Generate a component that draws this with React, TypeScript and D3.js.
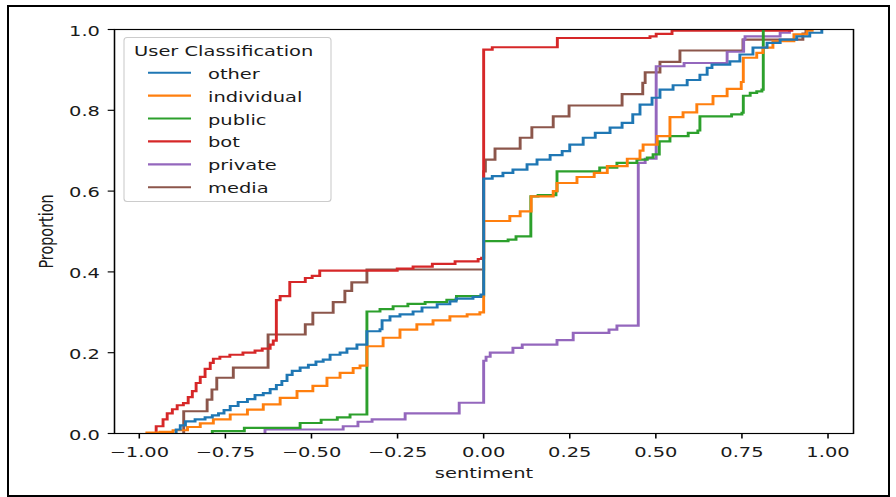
import React from 'react';
import * as d3 from 'd3';

type Pt = [number, number];

const seriesNames = ['other', 'individual', 'public', 'bot', 'private', 'media'];
const seriesColors = ['#1f77b4', '#ff7f0e', '#2ca02c', '#d62728', '#9467bd', '#8c564b'];

const other: Pt[] = [
  [-0.893, 0.01], [-0.881, 0.02], [-0.866, 0.03], [-0.838, 0.035], [-0.809, 0.04], [-0.788, 0.045],
  [-0.77, 0.05], [-0.754, 0.058], [-0.736, 0.068], [-0.713, 0.078], [-0.686, 0.085], [-0.664, 0.095],
  [-0.64, 0.1], [-0.62, 0.11], [-0.602, 0.12], [-0.586, 0.13], [-0.571, 0.145], [-0.556, 0.155],
  [-0.533, 0.163], [-0.509, 0.17], [-0.487, 0.178], [-0.466, 0.183], [-0.446, 0.195], [-0.417, 0.2],
  [-0.397, 0.21], [-0.368, 0.22], [-0.339, 0.253], [-0.301, 0.258], [-0.295, 0.28], [-0.272, 0.29],
  [-0.243, 0.295], [-0.205, 0.302], [-0.179, 0.312], [-0.135, 0.32], [-0.098, 0.327], [-0.08, 0.334],
  [-0.031, 0.338], [-0.008, 0.344], [0.0, 0.631], [0.025, 0.637], [0.056, 0.645], [0.085, 0.653],
  [0.126, 0.666], [0.155, 0.678], [0.193, 0.689], [0.228, 0.699], [0.25, 0.715], [0.289, 0.732],
  [0.324, 0.744], [0.367, 0.757], [0.402, 0.769], [0.433, 0.79], [0.454, 0.814], [0.489, 0.831],
  [0.512, 0.851], [0.55, 0.862], [0.591, 0.875], [0.628, 0.888], [0.649, 0.905], [0.663, 0.913],
  [0.715, 0.921], [0.744, 0.938], [0.782, 0.955], [0.823, 0.967], [0.861, 0.975], [0.909, 0.983],
  [0.947, 0.992], [0.982, 1.0],
];

const individual: Pt[] = [
  [-0.978, 0.002], [-0.94, 0.004], [-0.902, 0.008], [-0.86, 0.016], [-0.823, 0.025], [-0.785, 0.035],
  [-0.736, 0.047], [-0.686, 0.059], [-0.64, 0.072], [-0.591, 0.088], [-0.542, 0.105], [-0.496, 0.118],
  [-0.455, 0.138], [-0.417, 0.15], [-0.379, 0.162], [-0.359, 0.168], [-0.339, 0.216], [-0.292, 0.237],
  [-0.243, 0.257], [-0.194, 0.27], [-0.147, 0.28], [-0.098, 0.29], [-0.048, 0.295], [-0.011, 0.3],
  [0.0, 0.526], [0.076, 0.538], [0.106, 0.55], [0.138, 0.587], [0.202, 0.6], [0.213, 0.62],
  [0.271, 0.635], [0.321, 0.645], [0.359, 0.662], [0.417, 0.68], [0.454, 0.7], [0.463, 0.715],
  [0.504, 0.736], [0.541, 0.783], [0.579, 0.795], [0.619, 0.815], [0.666, 0.835], [0.707, 0.853],
  [0.748, 0.87], [0.754, 0.93], [0.793, 0.942], [0.811, 0.955], [0.84, 0.971], [0.901, 0.988],
  [0.939, 0.997], [0.954, 1.0],
];

const publicS: Pt[] = [
  [-0.788, 0.006], [-0.695, 0.014], [-0.533, 0.026], [-0.472, 0.034], [-0.425, 0.04], [-0.388, 0.047],
  [-0.339, 0.302], [-0.301, 0.308], [-0.263, 0.315], [-0.22, 0.321], [-0.17, 0.325], [-0.107, 0.331],
  [-0.079, 0.34], [0.0, 0.476], [0.071, 0.48], [0.094, 0.488], [0.137, 0.587], [0.158, 0.59],
  [0.21, 0.6], [0.213, 0.649], [0.337, 0.658], [0.387, 0.67], [0.445, 0.678], [0.475, 0.683],
  [0.492, 0.691], [0.51, 0.723], [0.541, 0.736], [0.594, 0.744], [0.622, 0.75], [0.628, 0.785],
  [0.72, 0.79], [0.75, 0.794], [0.754, 0.836], [0.774, 0.843], [0.793, 0.847], [0.808, 0.851],
  [0.812, 1.0],
];

const bot: Pt[] = [
  [-0.951, 0.018], [-0.931, 0.035], [-0.919, 0.05], [-0.904, 0.06], [-0.89, 0.07], [-0.872, 0.075],
  [-0.858, 0.09], [-0.846, 0.105], [-0.835, 0.125], [-0.823, 0.14], [-0.809, 0.16], [-0.794, 0.175],
  [-0.785, 0.185], [-0.766, 0.19], [-0.737, 0.195], [-0.699, 0.2], [-0.664, 0.205], [-0.643, 0.21],
  [-0.62, 0.22], [-0.611, 0.23], [-0.602, 0.33], [-0.591, 0.34], [-0.563, 0.375], [-0.518, 0.385],
  [-0.498, 0.39], [-0.476, 0.403], [-0.251, 0.408], [-0.205, 0.413], [-0.149, 0.42], [-0.083, 0.426],
  [-0.016, 0.432], [-0.006, 0.435], [0.0, 0.95], [0.025, 0.956], [0.214, 0.979], [0.483, 0.983],
  [0.501, 0.989], [0.547, 0.997], [0.895, 1.0],
];

const privateS: Pt[] = [
  [-0.635, 0.01], [-0.408, 0.018], [-0.365, 0.029], [-0.324, 0.035], [-0.228, 0.05], [-0.071, 0.076],
  [0.0, 0.18], [0.007, 0.19], [0.019, 0.2], [0.085, 0.212], [0.112, 0.22], [0.213, 0.231],
  [0.26, 0.249], [0.364, 0.257], [0.387, 0.267], [0.449, 0.67], [0.469, 0.68], [0.501, 0.909],
  [0.582, 0.917], [0.707, 0.945], [0.755, 0.975], [0.759, 0.983], [0.861, 0.992], [0.888, 1.0],
];

const media: Pt[] = [
  [-0.871, 0.055], [-0.803, 0.084], [-0.789, 0.109], [-0.775, 0.138], [-0.727, 0.163], [-0.626, 0.245],
  [-0.518, 0.27], [-0.496, 0.299], [-0.437, 0.325], [-0.403, 0.353], [-0.383, 0.374], [-0.339, 0.406],
  [0.0, 0.649], [0.005, 0.678], [0.033, 0.705], [0.106, 0.732], [0.14, 0.758], [0.202, 0.785],
  [0.248, 0.812], [0.402, 0.84], [0.462, 0.868], [0.469, 0.894], [0.512, 0.92], [0.57, 0.948],
  [0.753, 0.975], [0.927, 0.99], [0.936, 1.0],
];

const seriesData: Pt[][] = [other, individual, publicS, bot, privateS, media];

const xTicks = [-1, -0.75, -0.5, -0.25, 0, 0.25, 0.5, 0.75, 1];
const xTickLabels = ['\u22121.00', '\u22120.75', '\u22120.50', '\u22120.25', '0.00', '0.25', '0.50', '0.75', '1.00'];
const yTicks = [0, 0.2, 0.4, 0.6, 0.8, 1.0];
const yTickLabels = ['0.0', '0.2', '0.4', '0.6', '0.8', '1.0'];

const SX = 1.4;
const SY = 1.035;
const FONT = '"DejaVu Sans", sans-serif';
const FS = 13.9;
const TXT = '#1a1a1a';

function T(props: { x: number; y: number; anchor?: string; rot?: boolean; children: React.ReactNode }) {
  const { x, y, anchor = 'start', rot = false, children } = props;
  return (
    <text
      transform={`translate(${x},${y}) scale(${SX},${SY})${rot ? ' rotate(-90)' : ''}`}
      textAnchor={anchor}
      fontFamily={FONT}
      fontSize={FS}
      fill={TXT}
    >
      {children}
    </text>
  );
}

export default function App() {
  const L = 114.5, R = 853.5, TOP = 29.5, B = 433.5;
  const x = d3.scaleLinear().domain([-1.072, 1.074]).range([L, R]);
  const y = d3.scaleLinear().domain([0, 1]).range([B, TOP]);

  const line = d3
    .line<Pt>()
    .x((d) => x(d[0]) / SX)
    .y((d) => y(d[1]) / SY)
    .curve(d3.curveStepAfter);

  const drawOrder = [5, 4, 3, 2, 1, 0];

  const legX = 124, legY = 37.5, legW = 207, legH = 164;
  const rowY0 = 72.7, rowDy = 22.9;

  return (
    <svg
      width={896}
      height={497}
      style={{ position: 'absolute', left: 0, top: 0, background: '#fff' }}
      xmlns="http://www.w3.org/2000/svg"
    >
      <rect x={0} y={0} width={896} height={497} fill="#fff" />
      <rect x={8} y={6} width={881} height={490} fill="none" stroke="#000" strokeWidth={2} />

      {/* series */}
      <g transform={`scale(${SX},${SY})`} fill="none" strokeWidth={2.08} strokeLinejoin="miter" strokeLinecap="butt">
        {drawOrder.map((i) => {
          const d = seriesData[i];
          const pts: Pt[] = [[d[0][0], 0], ...d];
          return <path key={seriesNames[i]} d={line(pts) || ''} stroke={seriesColors[i]} />;
        })}
      </g>

      {/* spines and ticks */}
      <g transform={`scale(${SX},${SY})`} stroke="#000" strokeWidth={1.11} fill="none">
        <rect x={L / SX} y={TOP / SY} width={(R - L) / SX} height={(B - TOP) / SY} />
        {xTicks.map((t) => (
          <line key={'xt' + t} x1={x(t) / SX} x2={x(t) / SX} y1={B / SY} y2={B / SY + 4.86} />
        ))}
        {yTicks.map((t) => (
          <line key={'yt' + t} x1={L / SX} x2={L / SX - 4.86} y1={y(t) / SY} y2={y(t) / SY} />
        ))}
      </g>

      {xTicks.map((t, i) => (
        <T key={'xl' + t} x={x(t)} y={457} anchor="middle">
          {xTickLabels[i]}
        </T>
      ))}
      {yTicks.map((t, i) => (
        <T key={'yl' + t} x={100} y={y(t) + 6} anchor="end">
          {yTickLabels[i]}
        </T>
      ))}

      <T x={(L + R) / 2} y={477.5} anchor="middle">sentiment</T>
      <T x={52.5} y={(TOP + B) / 2} anchor="middle" rot>Proportion</T>

      {/* legend */}
      <rect
        x={legX}
        y={legY}
        width={legW}
        height={legH}
        rx={3}
        ry={3}
        fill="#fff"
        fillOpacity={0.8}
        stroke="#cccccc"
        strokeWidth={1.1}
      />
      <T x={134} y={56.3}>User Classification</T>
      {seriesNames.map((name, i) => {
        const cy = rowY0 + i * rowDy;
        return (
          <g key={'lg' + name}>
            <line x1={148} x2={191} y1={cy} y2={cy} stroke={seriesColors[i]} strokeWidth={2.15} />
            <T x={208} y={cy + 6}>{name}</T>
          </g>
        );
      })}
    </svg>
  );
}
